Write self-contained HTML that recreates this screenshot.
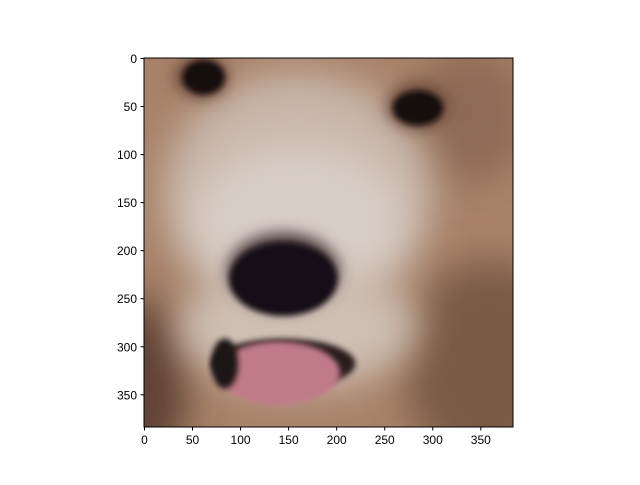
<!DOCTYPE html>
<html><head><meta charset="utf-8"><style>
body{margin:0;background:#fff;font-family:"Liberation Sans",sans-serif}
svg text{font-family:"Liberation Sans",sans-serif;font-size:12px;fill:#000}
</style></head><body>
<svg id="chart" width="640" height="480" xmlns="http://www.w3.org/2000/svg">
<defs>
<filter id="b20" x="-50%" y="-50%" width="200%" height="200%"><feGaussianBlur stdDeviation="20"/></filter>
<filter id="b8" x="-50%" y="-50%" width="200%" height="200%"><feGaussianBlur stdDeviation="8"/></filter>
<filter id="b3" x="-50%" y="-50%" width="200%" height="200%"><feGaussianBlur stdDeviation="3"/></filter>
<clipPath id="clip"><rect x="0" y="0" width="384" height="384"/></clipPath>
</defs>
<svg x="144" y="58" width="369" height="369" viewBox="0 0 384 384">
<g clip-path="url(#clip)">
<rect x="0" y="0" width="384" height="384" fill="#a88268"/>
<ellipse cx="360" cy="320" rx="90" ry="110" fill="#7a5a44" filter="url(#b20)"/>
<ellipse cx="0" cy="340" rx="45" ry="90" fill="#5e4234" filter="url(#b20)"/>
<ellipse cx="340" cy="60" rx="60" ry="70" fill="#8f6b55" filter="url(#b20)"/>
<ellipse cx="160" cy="140" rx="140" ry="125" fill="#c8b7ab" filter="url(#b20)"/>
<ellipse cx="160" cy="170" rx="110" ry="80" fill="#d8cdc6" filter="url(#b20)"/>
<ellipse cx="160" cy="280" rx="125" ry="65" fill="#cdbfb4" filter="url(#b20)"/>
<ellipse cx="60" cy="20" rx="28" ry="22" fill="#6a4a3a" filter="url(#b8)"/>
<ellipse cx="62" cy="20" rx="22" ry="18" fill="#15100f" filter="url(#b3)"/>
<ellipse cx="285" cy="50" rx="32" ry="24" fill="#6a4a3a" filter="url(#b8)"/>
<ellipse cx="285" cy="52" rx="26" ry="18" fill="#15100f" filter="url(#b3)"/>
<ellipse cx="145" cy="222" rx="58" ry="40" fill="#4a383a" filter="url(#b8)"/>
<ellipse cx="145" cy="230" rx="56" ry="38" fill="#141012" filter="url(#b3)"/>
<ellipse cx="145" cy="318" rx="75" ry="26" fill="#2a1a1a" filter="url(#b3)"/>
<ellipse cx="140" cy="328" rx="64" ry="33" fill="#c07a88" filter="url(#b3)"/>
<ellipse cx="84" cy="318" rx="14" ry="26" fill="#1e1414" filter="url(#b3)"/>
</g>
</svg>
<rect x="144" y="58" width="369" height="369" fill="none" stroke="#000" stroke-width="1"/>
<g id="xt"></g>
<g id="yt"></g>
</svg>
<script>
const xTicks=[0,50,100,150,200,250,300,350];
const yTicks=[0,50,100,150,200,250,300,350];
const imgSize=384;
const ns="http://www.w3.org/2000/svg";
function sx(v){return 144+(v+0.5)*369/imgSize;}
function sy(v){return 58+(v+0.5)*369/imgSize;}
const xg=document.getElementById('xt'),yg=document.getElementById('yt');
xTicks.forEach(v=>{
 const l=document.createElementNS(ns,'line');
 
 
 l.setAttribute('x1',sx(v));l.setAttribute('x2',sx(v));l.setAttribute('y1',427);l.setAttribute('y2',430.5);l.setAttribute('stroke','#000');
 xg.appendChild(l);
 const t=document.createElementNS(ns,'text');
 
 
 t.setAttribute('x',sx(v));t.setAttribute('y',444);t.setAttribute('text-anchor','middle');t.textContent=v;
 xg.appendChild(t);
});
yTicks.forEach(v=>{
 const l=document.createElementNS(ns,'line');
 
 
 l.setAttribute('x1',140.5);l.setAttribute('x2',144);l.setAttribute('y1',sy(v));l.setAttribute('y2',sy(v));l.setAttribute('stroke','#000');
 yg.appendChild(l);
 const t=document.createElementNS(ns,'text');
 
 
 t.setAttribute('x',137);t.setAttribute('y',sy(v)+4.5);t.setAttribute('text-anchor','end');t.textContent=v;
 yg.appendChild(t);
});
</script>
</body></html>
